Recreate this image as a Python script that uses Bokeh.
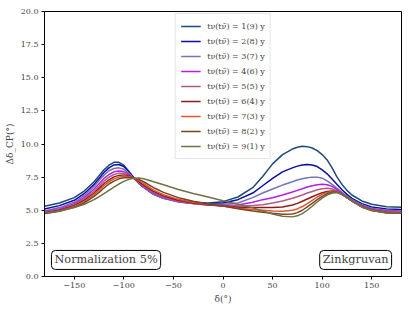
from bokeh.plotting import figure
from bokeh.models import Legend, LegendItem, Label, FixedTicker, Range1d
from bokeh.embed import file_html
from bokeh.resources import INLINE

delta = [-180, -165, -150, -140, -130, -125, -120, -115, -110, -105, -100, -95, -90, -85, -80,
         -70, -60, -45, -30, -15, 0, 15, 30, 40, 50, 60, 70, 75, 80, 85, 90, 95, 100, 105, 110,
         115, 120, 125, 130, 140, 150, 165, 180]

c1 = [5.3, 5.55, 5.95, 6.45, 7.15, 7.6, 8.05, 8.4, 8.62, 8.62, 8.4, 7.95, 7.45, 7.05, 6.75,
      6.25, 5.95, 5.7, 5.6, 5.55, 5.65, 6.0, 6.7, 7.55, 8.5, 9.2, 9.62, 9.76, 9.83, 9.8, 9.7,
      9.5, 9.2, 8.8, 8.2, 7.5, 6.95, 6.5, 6.15, 5.7, 5.45, 5.27, 5.23]
c2 = [5.1, 5.35, 5.75, 6.25, 6.95, 7.4, 7.85, 8.2, 8.42, 8.45, 8.3, 7.9, 7.45, 7.05, 6.72,
      6.2, 5.9, 5.65, 5.55, 5.5, 5.55, 5.8, 6.3, 6.85, 7.4, 7.9, 8.2, 8.33, 8.42, 8.46, 8.42,
      8.3, 8.05, 7.75, 7.35, 6.95, 6.55, 6.2, 5.9, 5.5, 5.25, 5.1, 5.05]
c3 = [4.95, 5.2, 5.6, 6.1, 6.8, 7.25, 7.65, 7.98, 8.15, 8.2, 8.1, 7.8, 7.42, 7.05, 6.75,
      6.22, 5.9, 5.62, 5.5, 5.45, 5.45, 5.55, 5.95, 6.3, 6.6, 6.9, 7.15, 7.28, 7.38, 7.45, 7.5,
      7.5, 7.42, 7.22, 6.95, 6.65, 6.35, 6.05, 5.8, 5.4, 5.15, 5.0, 4.95]
c4 = [4.9, 5.1, 5.5, 5.95, 6.6, 7.0, 7.4, 7.7, 7.9, 7.97, 7.92, 7.72, 7.42, 7.08, 6.78,
      6.28, 5.95, 5.65, 5.5, 5.4, 5.38, 5.4, 5.6, 5.8, 5.95, 6.15, 6.38, 6.5, 6.62, 6.75, 6.85,
      6.92, 6.96, 6.93, 6.8, 6.55, 6.28, 6.0, 5.75, 5.35, 5.1, 4.95, 4.9]
c5 = [4.85, 5.05, 5.42, 5.85, 6.45, 6.82, 7.2, 7.5, 7.7, 7.8, 7.8, 7.65, 7.42, 7.12, 6.82,
      6.33, 6.0, 5.68, 5.5, 5.4, 5.33, 5.3, 5.35, 5.42, 5.55, 5.7, 5.9, 6.02, 6.15, 6.3, 6.42,
      6.55, 6.63, 6.66, 6.6, 6.45, 6.22, 5.95, 5.7, 5.3, 5.05, 4.9, 4.85]
c6 = [4.8, 5.0, 5.35, 5.75, 6.3, 6.65, 7.0, 7.3, 7.52, 7.63, 7.67, 7.6, 7.43, 7.18, 6.9,
      6.42, 6.08, 5.75, 5.55, 5.42, 5.32, 5.22, 5.2, 5.2, 5.2, 5.25, 5.4, 5.52, 5.68, 5.85, 6.02,
      6.18, 6.32, 6.42, 6.45, 6.38, 6.2, 5.95, 5.7, 5.28, 5.02, 4.85, 4.8]
c7 = [4.75, 4.95, 5.28, 5.65, 6.2, 6.52, 6.85, 7.15, 7.37, 7.5, 7.56, 7.55, 7.44, 7.25, 7.0,
      6.52, 6.18, 5.82, 5.6, 5.45, 5.32, 5.15, 5.05, 5.0, 4.95, 4.93, 5.0, 5.1, 5.28, 5.5, 5.75,
      6.0, 6.2, 6.35, 6.42, 6.37, 6.2, 5.95, 5.7, 5.25, 5.0, 4.82, 4.78]
c8 = [4.75, 4.92, 5.22, 5.55, 6.05, 6.35, 6.68, 6.98, 7.2, 7.37, 7.46, 7.48, 7.44, 7.33, 7.15,
      6.7, 6.35, 5.95, 5.68, 5.48, 5.32, 5.12, 4.95, 4.85, 4.77, 4.7, 4.72, 4.82, 5.0, 5.25, 5.52,
      5.8, 6.05, 6.25, 6.37, 6.35, 6.2, 5.96, 5.7, 5.25, 4.98, 4.8, 4.77]
c9 = [4.8, 4.95, 5.2, 5.45, 5.8, 6.02, 6.25, 6.5, 6.75, 6.98, 7.18, 7.33, 7.42, 7.43, 7.38,
      7.15, 6.92, 6.57, 6.27, 6.0, 5.72, 5.45, 5.18, 4.95, 4.72, 4.55, 4.5, 4.58, 4.75, 5.0, 5.3,
      5.62, 5.92, 6.15, 6.3, 6.33, 6.2, 5.98, 5.72, 5.25, 4.98, 4.82, 4.8]

series = [c1, c2, c3, c4, c5, c6, c7, c8, c9]
labels = ["tν(tν̄) = 1(9) y", "tν(tν̄) = 2(8) y", "tν(tν̄) = 3(7) y",
          "tν(tν̄) = 4(6) y", "tν(tν̄) = 5(5) y", "tν(tν̄) = 6(4) y",
          "tν(tν̄) = 7(3) y", "tν(tν̄) = 8(2) y", "tν(tν̄) = 9(1) y"]
colors = ["#1d4a78", "#0c0ca8", "#7474b4", "#b41ee6", "#b25a8a",
          "#8c1c1c", "#e0552a", "#7a4420", "#707048"]

x_ticks = [-150, -100, -50, 0, 50, 100, 150]
x_tick_labels = ["−150", "−100", "−50", "0", "50", "100", "150"]
y_ticks = [0, 2.5, 5, 7.5, 10, 12.5, 15, 17.5, 20]
y_tick_labels = ["0.0", "2.5", "5.0", "7.5", "10.0", "12.5", "15.0", "17.5", "20.0"]

FONT = "DejaVu Serif"

p = figure(width=403, height=309, output_backend="svg", toolbar_location=None,
           x_range=Range1d(-180, 180), y_range=Range1d(0, 20),
           min_border_left=44, min_border_right=2, min_border_top=11, min_border_bottom=33)
p.xgrid.visible = False
p.ygrid.visible = False
p.outline_line_color = "black"
p.outline_line_width = 1
p.background_fill_color = "white"
p.border_fill_color = "white"

items = []
for s, lab, col in zip(series, labels, colors):
    r = p.line(delta, s, line_color=col, line_width=1.5)
    items.append(LegendItem(label=lab, renderers=[r]))

legend = Legend(items=items, location="top_center", margin=2, padding=5, spacing=1,
                glyph_width=20, glyph_height=14, label_height=14, label_standoff=7,
                label_text_font=FONT, label_text_font_size="8px",
                border_line_color="#cccccc", border_line_width=1,
                background_fill_color="white", background_fill_alpha=0.9)
p.add_layout(legend, "center")

for ax, ticks, tl in ((p.xaxis[0], x_ticks, x_tick_labels), (p.yaxis[0], y_ticks, y_tick_labels)):
    ax.ticker = FixedTicker(ticks=ticks)
    ax.major_label_overrides = {t: l for t, l in zip(ticks, tl)}
    ax.minor_tick_line_color = None
    ax.major_tick_in = 0
    ax.major_tick_out = 3
    ax.major_label_text_font = FONT
    ax.major_label_text_font_size = "8px"
    ax.major_label_standoff = 3
    ax.axis_label_text_font = FONT
    ax.axis_label_text_font_size = "9px"
    ax.axis_label_text_font_style = "normal"
    ax.axis_label_standoff = 3
    ax.axis_line_color = "black"

p.xaxis.axis_label = "δ(°)"
p.yaxis.axis_label = "Δδ_CP(°)"

lab1 = Label(x=-173, y=1.25, text="Normalization 5%", text_baseline="middle", text_align="left",
             text_font=FONT, text_font_size="11.3px", border_line_color="black",
             background_fill_color="white", padding=3, border_radius=4)
lab2 = Label(x=170, y=1.25, text="Zinkgruvan", text_baseline="middle", text_align="right",
             text_font=FONT, text_font_size="11.3px", border_line_color="black",
             background_fill_color="white", padding=3, border_radius=4)
p.add_layout(lab1)
p.add_layout(lab2)

open("out.html", "w").write(file_html(p, INLINE))
